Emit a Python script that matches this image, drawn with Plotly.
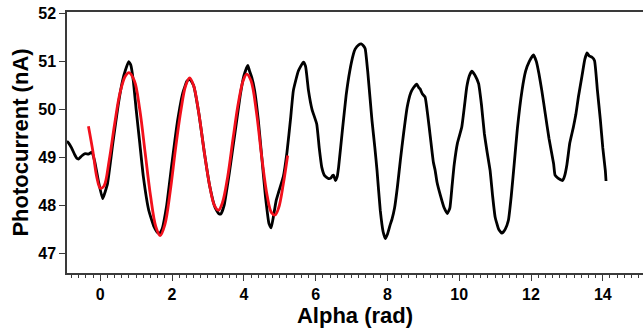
import plotly.graph_objects as go

# Measured trace (black)
alpha_meas = [-0.93, -0.88, -0.8, -0.72, -0.65, -0.6, -0.52, -0.42, -0.33, -0.23, -0.15, -0.05, 0.065,
              0.2, 0.35, 0.5, 0.62, 0.7, 0.79, 0.85, 0.92, 1.0, 1.1, 1.2, 1.35, 1.5, 1.6, 1.65, 1.72,
              1.85, 2.0, 2.15, 2.3, 2.42, 2.5, 2.6, 2.75, 2.9, 3.05, 3.2, 3.3, 3.36, 3.45, 3.6, 3.75,
              3.9, 4.0, 4.11, 4.16, 4.22, 4.3, 4.4, 4.5, 4.6, 4.7, 4.76, 4.82, 4.9, 4.97, 5.1, 5.2,
              5.3, 5.38, 5.52, 5.66, 5.72, 5.8, 5.9, 6.03, 6.1, 6.17, 6.25, 6.36, 6.42, 6.47, 6.5,
              6.55, 6.6, 6.64, 6.75, 6.85, 6.95, 7.05, 7.1, 7.2, 7.27, 7.33, 7.38, 7.45, 7.52, 7.57,
              7.65, 7.71, 7.8, 7.88, 7.94, 8.0, 8.07, 8.13, 8.2, 8.28, 8.36, 8.45, 8.55, 8.65, 8.72,
              8.82, 8.88, 8.91, 8.97, 9.05, 9.12, 9.2, 9.28, 9.33, 9.38, 9.48, 9.58, 9.67, 9.74, 9.8,
              9.86, 9.95, 10.07, 10.15, 10.21, 10.28, 10.35, 10.45, 10.54, 10.62, 10.7, 10.78, 10.86,
              10.93, 11.0, 11.1, 11.19, 11.28, 11.37, 11.45, 11.53, 11.62, 11.75, 11.85, 11.95, 12.07,
              12.15, 12.22, 12.3, 12.4, 12.5, 12.63, 12.67, 12.75, 12.88, 12.93, 13.0, 13.08, 13.18,
              13.25, 13.32, 13.42, 13.5, 13.56, 13.62, 13.7, 13.77, 13.85, 13.93, 14.0, 14.07, 14.09]
current_meas = [49.34, 49.3, 49.2, 49.07, 48.98, 48.97, 49.03, 49.08, 49.07, 49.11, 48.9, 48.5, 48.14,
                48.45, 49.3, 50.1, 50.6, 50.82, 51.0, 50.93, 50.6, 50.0, 49.3, 48.6, 47.9, 47.55, 47.43,
                47.42, 47.5, 48.0, 48.9, 49.75, 50.35, 50.6, 50.63, 50.5, 49.9, 49.1, 48.4, 47.95, 47.83,
                47.82, 48.0, 48.7, 49.5, 50.3, 50.7, 50.92, 50.8, 50.67, 50.4, 49.8, 49.0, 48.2, 47.62,
                47.53, 47.75, 48.1, 48.28, 48.6, 49.1, 49.8, 50.4, 50.81, 50.99, 50.9, 50.4, 50.0, 49.7,
                49.2, 48.8, 48.62, 48.56, 48.57, 48.62, 48.63, 48.52, 48.6, 48.8, 49.6, 50.3, 50.8,
                51.15, 51.26, 51.35, 51.37, 51.33, 51.27, 50.8, 50.2, 49.77, 49.2, 48.73, 47.9, 47.45,
                47.31, 47.4, 47.58, 47.72, 47.95, 48.4, 48.94, 49.5, 50.05, 50.35, 50.45, 50.53, 50.45,
                50.43, 50.33, 50.26, 49.9, 49.4, 48.9, 48.73, 48.49, 48.2, 47.95, 47.83, 47.95, 48.4,
                48.85, 49.3, 49.63, 50.1, 50.47, 50.7, 50.8, 50.7, 50.54, 50.1, 49.5, 49.1, 48.73,
                48.2, 47.76, 47.5, 47.42, 47.5, 47.69, 48.2, 48.85, 49.6, 50.4, 50.8, 51.0, 51.14,
                51.0, 50.75, 50.4, 49.9, 49.4, 48.87, 48.63, 48.57, 48.52, 48.6, 48.85, 49.3, 49.63,
                49.9, 50.26, 50.7, 51.05, 51.18, 51.12, 51.09, 51.02, 50.4, 49.8, 49.2, 48.73, 48.51]

# Fit (red)
alpha_fit = [-0.33, -0.2, -0.1, 0.0, 0.1, 0.25, 0.4, 0.55, 0.7, 0.8, 0.95, 1.1, 1.25, 1.4, 1.55,
             1.67, 1.8, 1.95, 2.1, 2.25, 2.38, 2.49, 2.6, 2.75, 2.9, 3.05, 3.18, 3.29, 3.4, 3.55,
             3.7, 3.85, 3.98, 4.08, 4.2, 4.35, 4.5, 4.65, 4.77, 4.87, 4.97, 5.1, 5.22]
current_fit = [49.65, 49.1, 48.6, 48.36, 48.4, 48.95, 49.7, 50.35, 50.7, 50.77, 50.6, 50.0, 49.1,
               48.2, 47.55, 47.37, 47.6, 48.3, 49.2, 50.0, 50.5, 50.66, 50.5, 49.9, 49.1, 48.4,
               48.0, 47.9, 48.05, 48.6, 49.4, 50.15, 50.6, 50.74, 50.6, 49.95, 49.0, 48.2, 47.85,
               47.8, 47.95, 48.45, 49.04]

FONT = "Arial, Liberation Sans, sans-serif"
AXC = "#3a3a3a"

fig = go.Figure()
fig.add_trace(go.Scatter(x=alpha_meas, y=current_meas, mode="lines",
                         line=dict(color="#000000", width=2.8, shape="spline", smoothing=0.4),
                         showlegend=False))
fig.add_trace(go.Scatter(x=alpha_fit, y=current_fit, mode="lines",
                         line=dict(color="#f2101c", width=2.8, shape="spline"), showlegend=False))

fig.update_layout(
    width=643, height=331,
    margin=dict(l=67, r=0, t=12, b=58, autoexpand=False),
    paper_bgcolor="white", plot_bgcolor="white",
    font=dict(family=FONT, color="black"),
    xaxis=dict(
        range=[-0.927, 15.12], showgrid=False, zeroline=False, automargin=False,
        showline=True, linecolor=AXC, linewidth=1.5, mirror=True,
        ticks="outside", ticklen=6, tickwidth=1.2, tickcolor=AXC,
        tickmode="linear", tick0=0, dtick=2,
        tickfont=dict(family=FONT, size=16, color="black", weight="bold"),
        minor=dict(dtick=0.2, tick0=0, ticks="outside", ticklen=3, tickwidth=1.2, tickcolor=AXC),
        title=dict(text="<b>Alpha (rad)</b>", font=dict(family=FONT, size=22, color="black"),
                   standoff=4),
    ),
    yaxis=dict(
        range=[46.59, 52.035], showgrid=False, zeroline=False, automargin=False,
        showline=True, linecolor=AXC, linewidth=1.5, mirror=False,
        ticks="outside", ticklen=6, tickwidth=1.2, tickcolor=AXC,
        tickmode="linear", tick0=47, dtick=1,
        tickfont=dict(family=FONT, size=16, color="black", weight="bold"),
        title=dict(text="<b>Photocurrent (nA)</b>", font=dict(family=FONT, size=22, color="black"),
                   standoff=4),
    ),
)

fig.write_html("out.html", config={"displayModeBar": False},
               post_script="document.body.style.margin='0';document.body.style.overflow='hidden';")
